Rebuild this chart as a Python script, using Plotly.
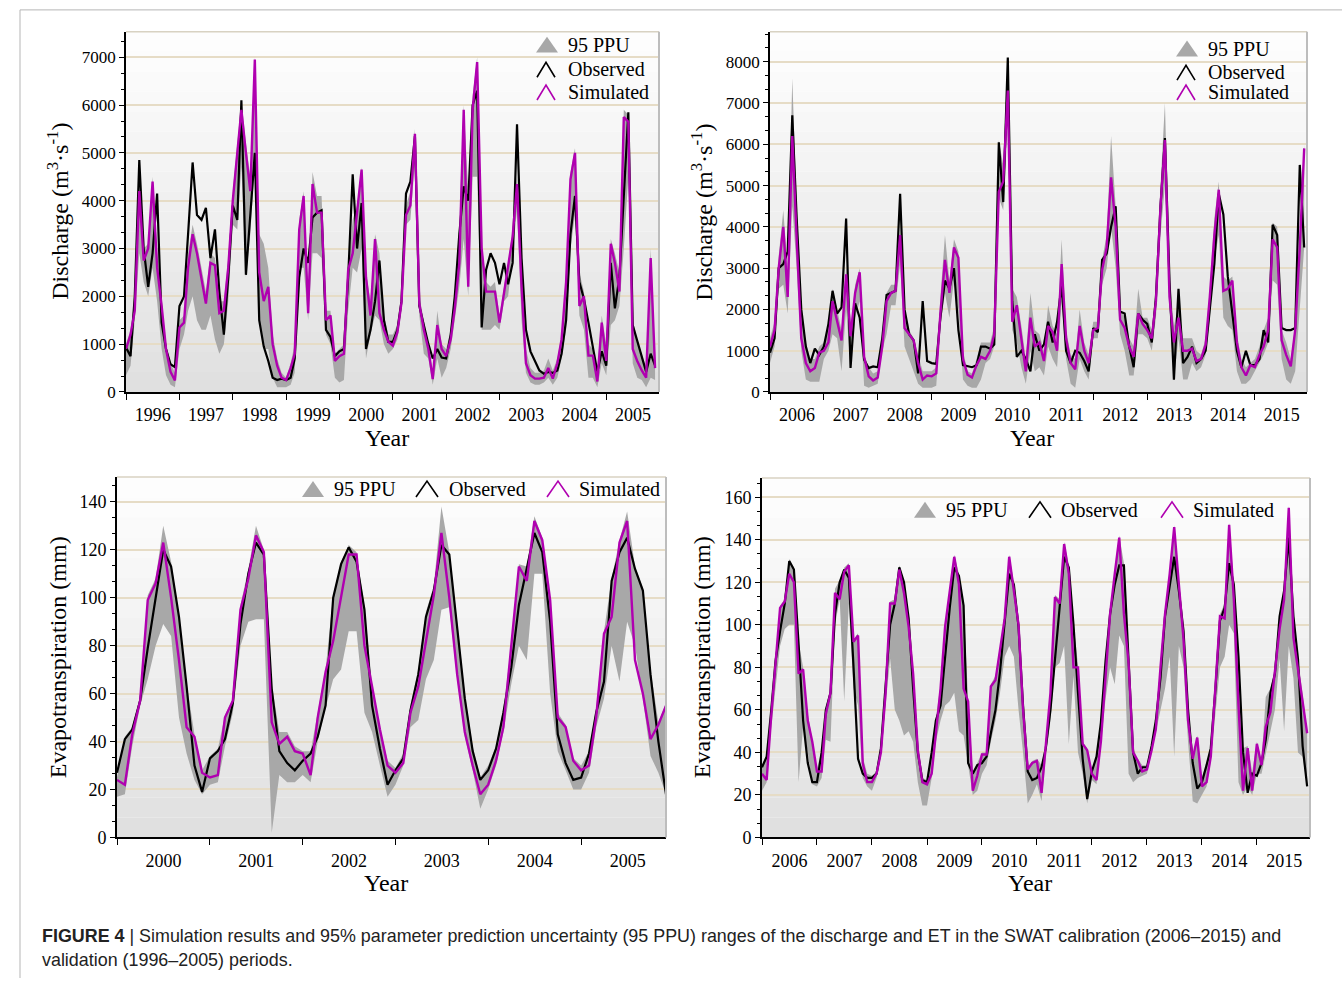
import pandas as pd
import plotly.graph_objects as go

W, H = 1342, 988

# ---------------- DATA ----------------
# Panel A: discharge, validation 1996-2005 (m3/s), monthly
qa_obs = ([930, 750, 2000, 4850, 3000, 2200, 2900, 4150, 1450, 900, 580, 520] +
          [1800, 2000, 3300, 4800, 3700, 3600, 3850, 2800, 3400, 2100, 1200, 2400] +
          [3900, 3600, 6100, 2450, 3700, 5000, 1500, 950, 650, 300, 250, 280] +
          [250, 300, 700, 2400, 3000, 2700, 3650, 3750, 3800, 1300, 1150, 750] +
          [850, 900, 2400, 4550, 3000, 3950, 900, 1300, 1900, 2750, 1500, 1050] +
          [1050, 1300, 1900, 4150, 4400, 5350, 1800, 1400, 1000, 700, 900, 720] +
          [700, 1200, 2000, 3300, 4300, 4000, 6000, 6300, 1350, 2550, 2900, 2700] +
          [2250, 2700, 2250, 2700, 5600, 2800, 1300, 850, 650, 450, 380, 420] +
          [400, 450, 800, 1500, 3300, 4100, 2300, 1950, 1450, 900, 420, 850] +
          [550, 2700, 1750, 2400, 4200, 5850, 1400, 1050, 720, 420, 800, 550])
qa_sim = ([900, 1200, 1700, 4200, 2750, 3000, 4400, 2600, 1800, 900, 420, 240] +
          [1350, 1450, 2600, 3300, 2900, 2400, 1850, 2700, 2650, 1650, 1700, 2600] +
          [4000, 5000, 5900, 5000, 4200, 6950, 2500, 1900, 2200, 1000, 550, 300] +
          [250, 500, 800, 3400, 4100, 1650, 4350, 3750, 3750, 1500, 1600, 650] +
          [750, 800, 2550, 2900, 3800, 4650, 2400, 1600, 3200, 1650, 1300, 1050] +
          [970, 1250, 1870, 3700, 3900, 5400, 1850, 1300, 900, 270, 1400, 900] +
          [750, 1100, 1750, 2700, 5900, 2200, 5900, 6900, 3000, 2100, 2100, 2100] +
          [1450, 2050, 2550, 3250, 4350, 2200, 600, 350, 280, 280, 300, 500] +
          [280, 600, 1100, 2300, 4450, 5000, 1800, 2000, 760, 760, 220, 1450] +
          [650, 3100, 2700, 2100, 5750, 5650, 900, 650, 450, 300, 2800, 500])
qa_lo = ([350, 550, 1500, 2900, 2300, 2000, 2600, 1900, 900, 350, 150, 100] +
         [900, 1200, 1700, 2000, 1500, 1300, 1300, 1600, 1100, 800, 1000, 1900] +
         [3500, 3400, 4700, 2400, 3300, 4800, 1500, 900, 900, 300, 100, 100] +
         [100, 150, 400, 2600, 2600, 1500, 2900, 2900, 2800, 1200, 1000, 300] +
         [200, 250, 1700, 2600, 2500, 3000, 700, 1200, 1600, 1500, 1000, 800] +
         [900, 1100, 1700, 3500, 3600, 4800, 1600, 800, 700, 150, 700, 300] +
         [500, 900, 1500, 2200, 3200, 2000, 4500, 4500, 1300, 1300, 1300, 1400] +
         [1300, 1900, 2000, 2900, 3800, 1500, 400, 200, 150, 150, 200, 300] +
         [150, 300, 700, 1300, 3000, 3700, 1600, 1300, 300, 300, 100, 600] +
         [350, 1400, 1500, 1800, 3000, 4500, 600, 300, 250, 100, 300, 250])
qa_hi = ([1000, 1300, 2000, 4300, 3000, 3100, 4500, 3000, 1900, 1000, 600, 400] +
         [1500, 1600, 2900, 3500, 3100, 2600, 2100, 2900, 2800, 1900, 1900, 2800] +
         [4200, 5200, 6100, 5200, 4500, 7000, 3300, 3100, 2600, 1200, 700, 400] +
         [300, 600, 1000, 3600, 4200, 2000, 4600, 4100, 4100, 1700, 1700, 800] +
         [900, 1000, 2600, 3600, 3900, 4700, 2500, 1900, 3300, 2900, 1600, 1200] +
         [1200, 1400, 2000, 3900, 4200, 5500, 2000, 1500, 1000, 400, 1700, 1000] +
         [900, 1300, 2100, 3500, 6000, 4200, 6200, 7000, 3100, 2300, 2200, 2300] +
         [1600, 2200, 2700, 3400, 4500, 2400, 900, 500, 400, 400, 450, 700] +
         [450, 700, 1200, 2500, 4600, 5100, 2500, 2100, 1000, 900, 500, 1600] +
         [1000, 3200, 2900, 2500, 5900, 5800, 1500, 1100, 800, 500, 3000, 700])

# Panel B: discharge, calibration 2006-2015
qb_obs = ([950, 1300, 3000, 3100, 3400, 6700, 4200, 2000, 1100, 700, 1050, 900] +
          [1100, 1650, 2450, 1900, 2050, 4200, 580, 2150, 1800, 780, 580, 620] +
          [600, 1300, 2350, 2400, 2450, 4800, 2000, 1400, 1250, 450, 2200, 750] +
          [700, 680, 1800, 2700, 2500, 3000, 1500, 650, 620, 600, 650, 1100] +
          [1100, 1050, 1150, 6050, 4600, 8100, 2200, 850, 1000, 800, 500, 1400] +
          [1000, 1150, 1700, 1200, 1700, 2600, 1000, 700, 1000, 950, 750, 500] +
          [1550, 1450, 3200, 3350, 4000, 4500, 1950, 1900, 1100, 600, 1900, 1750] +
          [1650, 1200, 2300, 4500, 6150, 2700, 300, 2500, 700, 850, 1100, 700] +
          [800, 1000, 2000, 3100, 4800, 4300, 2800, 1900, 1000, 600, 1000, 650] +
          [650, 800, 1500, 1200, 4050, 3800, 1550, 1500, 1500, 1550, 5500, 3500])
qb_sim = ([1100, 1500, 3000, 4000, 2300, 6200, 3700, 1300, 700, 500, 580, 950] +
          [1000, 1200, 2200, 1750, 1250, 2850, 1350, 2400, 2900, 850, 380, 280] +
          [350, 1100, 2200, 2400, 2450, 3800, 1550, 1400, 1250, 700, 300, 400] +
          [380, 450, 1900, 3200, 2400, 3500, 3250, 800, 420, 350, 650, 850] +
          [800, 1000, 1400, 4850, 5100, 7300, 1700, 2100, 1300, 500, 1800, 1100] +
          [1200, 750, 1600, 1450, 1000, 3100, 1300, 700, 550, 1600, 1000, 700] +
          [1500, 1550, 2950, 3500, 5200, 4000, 1750, 1550, 1100, 850, 1900, 1650] +
          [1500, 1300, 2200, 4500, 6100, 2300, 1200, 1800, 1000, 1000, 1050, 750] +
          [800, 1150, 2300, 3800, 4900, 2450, 2500, 2700, 1200, 600, 400, 650] +
          [600, 900, 1100, 1500, 3700, 3500, 1250, 900, 620, 1500, 3500, 5900])
qb_lo = ([700, 1100, 2500, 2600, 1900, 4500, 3000, 1000, 300, 250, 250, 250] +
         [800, 1000, 1400, 1300, 500, 2000, 600, 1800, 2200, 150, 100, 150] +
         [200, 1000, 1400, 2100, 2100, 3100, 1100, 800, 500, 200, 100, 100] +
         [100, 150, 1600, 2400, 1800, 2700, 2000, 300, 150, 100, 100, 300] +
         [700, 800, 1100, 4700, 4400, 6500, 1500, 1200, 600, 200, 1000, 500] +
         [600, 400, 1100, 800, 600, 2200, 800, 200, 100, 800, 500, 300] +
         [1300, 1300, 2600, 3000, 4000, 3000, 1400, 1000, 400, 400, 1400, 1400] +
         [1300, 1000, 1800, 3800, 5000, 2000, 300, 1300, 300, 300, 700, 500] +
         [600, 900, 1800, 3200, 3800, 1800, 1600, 1500, 500, 200, 200, 300] +
         [500, 700, 900, 1200, 2700, 2600, 800, 300, 200, 500, 2000, 3500])
qb_hi = ([1300, 1700, 3300, 4400, 3000, 7600, 4500, 2000, 1200, 800, 800, 1100] +
         [1200, 1600, 2500, 2000, 1500, 3000, 1500, 2600, 3000, 900, 600, 450] +
         [500, 1400, 2400, 2600, 2600, 4000, 1800, 1500, 1300, 900, 500, 500] +
         [500, 600, 2300, 3800, 2700, 3700, 3400, 1000, 500, 450, 800, 1200] +
         [1200, 1200, 1600, 6100, 5500, 8100, 2500, 2300, 1600, 800, 2400, 1500] +
         [1400, 1000, 2100, 1600, 1400, 3700, 1500, 900, 800, 2000, 1200, 900] +
         [1700, 1700, 3200, 3800, 6200, 4500, 2000, 1800, 1300, 1100, 2500, 1800] +
         [1800, 1500, 2400, 5000, 7000, 2800, 1600, 2100, 1300, 1300, 1300, 1000] +
         [900, 1300, 2500, 4200, 5100, 2800, 2700, 2800, 1400, 800, 600, 700] +
         [800, 1100, 1500, 1800, 4100, 4000, 1500, 1200, 800, 1600, 4000, 6000])

# Panel C: ET, validation 2000-2005 (mm)
ec_obs = ([27, 41, 45, 57, 79, 99, 120, 113, 92, 63, 30, 19] +
          [33, 36, 41, 56, 89, 110, 123, 118, 62, 36, 31, 28] +
          [32, 35, 42, 55, 100, 114, 121, 115, 95, 55, 37, 22] +
          [28, 33, 53, 68, 92, 103, 122, 118, 88, 58, 36, 24] +
          [28, 37, 52, 71, 97, 112, 127, 119, 90, 43, 31, 24] +
          [25, 35, 52, 65, 107, 119, 125, 112, 103, 68, 40, 18])
ec_sim = ([24, 22, 43, 57, 99, 106, 123, 100, 74, 46, 42, 27] +
          [25, 26, 50, 57, 95, 108, 126, 119, 48, 39, 42, 36] +
          [35, 26, 50, 69, 82, 100, 118, 118, 80, 63, 45, 30] +
          [27, 31, 52, 63, 82, 101, 127, 100, 68, 44, 30, 18] +
          [22, 32, 46, 79, 113, 107, 132, 124, 99, 50, 46, 32] +
          [28, 30, 50, 85, 92, 123, 132, 74, 60, 41, 47, 55])
ec_lo = ([17, 18, 38, 55, 66, 80, 89, 84, 50, 35, 24, 18] +
         [22, 23, 38, 52, 80, 90, 91, 91, 2, 26, 23, 23] +
         [26, 23, 40, 54, 66, 70, 86, 86, 52, 44, 30, 17] +
         [22, 30, 46, 49, 66, 74, 95, 96, 66, 42, 28, 12] +
         [20, 30, 44, 64, 80, 74, 110, 110, 60, 36, 28, 20] +
         [20, 27, 46, 58, 80, 65, 90, 80, 58, 34, 27, 18])
ec_hi = ([25, 42, 46, 59, 101, 108, 130, 115, 93, 64, 43, 28] +
         [34, 37, 51, 58, 97, 112, 130, 120, 64, 44, 44, 38] +
         [36, 36, 52, 70, 101, 115, 122, 119, 96, 64, 46, 32] +
         [29, 35, 55, 70, 94, 105, 138, 119, 90, 60, 38, 25] +
         [30, 38, 54, 80, 114, 113, 134, 125, 100, 52, 47, 33] +
         [30, 36, 54, 86, 108, 124, 136, 113, 104, 70, 48, 56])

# Panel D: ET, calibration 2006-2015 (mm)
ed_obs = ([33, 38, 58, 83, 97, 110, 130, 126, 91, 55, 35, 26] +
          [26, 40, 60, 68, 105, 120, 126, 122, 80, 37, 30, 28] +
          [28, 30, 42, 70, 100, 110, 127, 120, 103, 70, 40, 27] +
          [26, 40, 55, 62, 85, 108, 127, 123, 109, 35, 30, 34] +
          [35, 38, 49, 60, 78, 101, 124, 119, 99, 62, 31, 27] +
          [28, 33, 42, 60, 84, 111, 132, 127, 100, 68, 37, 18] +
          [31, 38, 54, 83, 105, 119, 128, 128, 84, 40, 30, 33] +
          [33, 43, 55, 75, 104, 119, 132, 116, 97, 60, 35, 23] +
          [26, 34, 42, 70, 102, 108, 129, 119, 85, 40, 21, 30] +
          [29, 35, 46, 68, 77, 104, 116, 141, 104, 84, 43, 24])
ed_sim = ([30, 27, 55, 80, 108, 111, 124, 120, 77, 79, 55, 45] +
          [31, 31, 58, 68, 115, 112, 125, 128, 92, 95, 35, 26] +
          [26, 30, 40, 68, 110, 110, 126, 115, 99, 77, 41, 26] +
          [25, 30, 50, 70, 99, 115, 132, 119, 70, 64, 22, 29] +
          [39, 39, 71, 74, 88, 103, 132, 117, 100, 60, 32, 35] +
          [36, 21, 42, 68, 113, 110, 138, 124, 80, 80, 44, 41] +
          [30, 27, 45, 74, 105, 124, 141, 105, 82, 40, 36, 31] +
          [32, 41, 51, 80, 105, 124, 146, 119, 93, 55, 37, 47] +
          [24, 26, 38, 71, 104, 103, 147, 112, 62, 22, 42, 22] +
          [44, 34, 52, 59, 77, 98, 112, 155, 94, 79, 65, 49])
ed_lo = ([22, 26, 50, 70, 90, 98, 100, 100, 26, 52, 40, 25] +
         [24, 28, 46, 45, 100, 112, 64, 110, 70, 62, 28, 24] +
         [22, 28, 38, 62, 84, 60, 55, 48, 50, 45, 26, 15] +
         [15, 28, 45, 55, 62, 64, 68, 50, 48, 34, 20, 22] +
         [30, 34, 45, 55, 68, 85, 90, 85, 60, 40, 16, 20] +
         [25, 17, 38, 55, 80, 82, 90, 44, 76, 40, 30, 16] +
         [27, 25, 43, 65, 80, 72, 95, 90, 30, 26, 28, 29] +
         [30, 40, 50, 60, 70, 85, 38, 90, 80, 45, 17, 16] +
         [20, 24, 36, 60, 80, 85, 100, 96, 26, 20, 24, 20] +
         [30, 30, 40, 50, 60, 84, 50, 90, 75, 40, 38, 24])
ed_hi = ([34, 39, 60, 85, 109, 112, 131, 127, 92, 80, 58, 46] +
         [32, 41, 61, 70, 117, 121, 127, 129, 93, 96, 38, 30] +
         [29, 31, 43, 71, 111, 112, 128, 121, 104, 78, 42, 28] +
         [27, 41, 56, 72, 100, 116, 133, 124, 110, 65, 31, 35] +
         [40, 40, 72, 76, 90, 104, 133, 120, 101, 63, 33, 36] +
         [37, 34, 43, 70, 114, 112, 139, 128, 101, 81, 45, 42] +
         [32, 39, 55, 84, 106, 125, 142, 129, 85, 42, 37, 34] +
         [34, 44, 56, 81, 106, 125, 147, 120, 98, 61, 38, 48] +
         [28, 35, 43, 72, 105, 110, 148, 120, 86, 42, 43, 31] +
         [45, 36, 66, 70, 78, 105, 117, 156, 105, 85, 66, 50])

legend_labels = ["95 PPU", "Observed", "Simulated"]
q_title = "Discharge (m<sup>3</sup>·s<sup>-1</sup>)"
et_title = "Evapotranspiration (mm)"
x_title = "Year"
caption1 = ("<b>FIGURE 4</b> | Simulation results and 95% parameter prediction uncertainty (95 PPU) "
            "ranges of the discharge and ET in the SWAT calibration (2006–2015) and")
caption2 = "validation (1996–2005) periods."

# ---------------- LAYOUT HELPERS ----------------
SERIF = "Liberation Serif, Times New Roman, serif"
BAND = "rgb(168,168,168)"
OBS_C = "#000000"
SIM_C = "#b000b0"


def fx(p):
    return p / W


def fy(p):
    return 1 - p / H


panels = [
    dict(obs=qa_obs, sim=qa_sim, lo=qa_lo, hi=qa_hi, start="1996-01-01",
         rng=["1996-01-01", "2005-12-28"], ymax=7535, dtick=1000,
         px=(126, 659), py=(32, 396), title=q_title, tx=58, ty=214,
         yr=(387, 442), tickfont=17, ttl=24),
    dict(obs=qb_obs, sim=qb_sim, lo=qb_lo, hi=qb_hi, start="2006-01-01",
         rng=["2006-01-01", "2015-12-20"], ymax=8727, dtick=1000,
         px=(770, 1307), py=(32, 396), title=q_title, tx=702, ty=214,
         yr=(1032, 442), tickfont=17, ttl=24),
    dict(obs=ec_obs, sim=ec_sim, lo=ec_lo, hi=ec_hi, start="2000-01-01",
         rng=["2000-01-01", "2005-12-01"], ymax=150.3, dtick=20,
         px=(117, 666), py=(482, 846), title=et_title, tx=58, ty=664,
         yr=(386, 892), tickfont=18, ttl=24),
    dict(obs=ed_obs, sim=ed_sim, lo=ed_lo, hi=ed_hi, start="2006-01-01",
         rng=["2006-01-01", "2015-12-20"], ymax=169, dtick=20,
         px=(762, 1310), py=(483, 846), title=et_title, tx=702, ty=664,
         yr=(1030, 892), tickfont=18, ttl=24),
]

fig = go.Figure()
shapes = []
annotations = []
layout_axes = {}

for i, p in enumerate(panels, start=1):
    xa = "x" if i == 1 else f"x{i}"
    ya = "y" if i == 1 else f"y{i}"
    xkey = "xaxis" if i == 1 else f"xaxis{i}"
    ykey = "yaxis" if i == 1 else f"yaxis{i}"
    dates = pd.date_range(p["start"], periods=len(p["obs"]), freq="MS")

    fig.add_trace(go.Scatter(x=dates, y=p["lo"], mode="lines", line=dict(width=0, color=BAND),
                             xaxis=xa, yaxis=ya, showlegend=False, hoverinfo="skip"))
    fig.add_trace(go.Scatter(x=dates, y=p["hi"], mode="lines", line=dict(width=0, color=BAND),
                             fill="tonexty", fillcolor=BAND, xaxis=xa, yaxis=ya,
                             showlegend=False, hoverinfo="skip"))
    fig.add_trace(go.Scatter(x=dates, y=p["obs"], mode="lines", line=dict(width=2.2, color=OBS_C),
                             xaxis=xa, yaxis=ya, showlegend=False, name="Observed"))
    fig.add_trace(go.Scatter(x=dates, y=p["sim"], mode="lines", line=dict(width=2.4, color=SIM_C),
                             xaxis=xa, yaxis=ya, showlegend=False, name="Simulated"))

    x0, x1 = p["px"]
    y0, y1 = p["py"]
    layout_axes[xkey] = dict(
        type="date", domain=[fx(x0), fx(x1)], range=p["rng"], anchor=ya,
        tickmode="linear", tick0=p["start"], dtick="M12", tickformat="%Y",
        ticklabelmode="period", ticks="outside", ticklen=6, tickwidth=1.2,
        tickcolor="black", showline=True, linecolor="black", linewidth=1.6,
        showgrid=False, zeroline=False,
        tickfont=dict(family=SERIF, size=18, color="black"))
    layout_axes[ykey] = dict(
        domain=[fy(y1), fy(y0)], range=[0, p["ymax"]], anchor=xa,
        tickmode="linear", tick0=0, dtick=p["dtick"], ticks="outside", ticklen=5,
        tickwidth=1.2, tickcolor="black", showline=True, linecolor="black",
        linewidth=1.6, showgrid=True, gridcolor="#e6dcc6", gridwidth=1.6,
        zeroline=False,
        minor=dict(dtick=p["dtick"] / 3, ticks="outside", ticklen=3,
                   tickcolor="black", showgrid=False),
        tickfont=dict(family=SERIF, size=p["tickfont"], color="black"))

    # gradient background
    nb = 18
    for b in range(nb):
        c = int(round(253 - (253 - 224) * (b / (nb - 1)) ** 1.1))
        shapes.append(dict(type="rect", xref=f"{xa} domain", yref=f"{ya} domain",
                           x0=0, x1=1, y0=1 - (b + 1) / nb, y1=1 - b / nb,
                           fillcolor=f"rgb({c},{c},{c})", line=dict(width=0),
                           layer="below"))
    # top / right frame
    shapes.append(dict(type="line", xref=f"{xa} domain", yref=f"{ya} domain",
                       x0=0, x1=1, y0=1, y1=1, line=dict(color="#d8d2c2", width=1.5),
                       layer="above"))
    shapes.append(dict(type="line", xref=f"{xa} domain", yref=f"{ya} domain",
                       x0=1, x1=1, y0=0, y1=1, line=dict(color="#bdbdbd", width=2),
                       layer="above"))

    # axis titles
    annotations.append(dict(x=fx(p["tx"]), y=fy(p["ty"]), xref="paper", yref="paper",
                            text=p["title"], textangle=-90, showarrow=False,
                            font=dict(family=SERIF, size=p["ttl"], color="black"),
                            xanchor="center", yanchor="middle"))
    annotations.append(dict(x=fx(p["yr"][0]), y=fy(p["yr"][1]), xref="paper", yref="paper",
                            text=x_title, showarrow=False,
                            font=dict(family=SERIF, size=24, color="black"),
                            xanchor="center", yanchor="middle"))


def tri(xl, xr, yb, yt):
    xm = (xl + xr) / 2
    return dict(type="path", xref="paper", yref="paper",
                path=f"M {fx(xl)},{fy(yb)} L {fx(xr)},{fy(yb)} L {fx(xm)},{fy(yt)} Z",
                fillcolor=BAND, line=dict(width=0), layer="above")


def chev(xl, xr, yb, yt, color):
    xm = (xl + xr) / 2
    return dict(type="path", xref="paper", yref="paper",
                path=f"M {fx(xl)},{fy(yb)} L {fx(xm)},{fy(yt)} L {fx(xr)},{fy(yb)}",
                line=dict(color=color, width=1.6), layer="above")


def leg_text(x, y, t):
    annotations.append(dict(x=fx(x), y=fy(y), xref="paper", yref="paper", text=t,
                            showarrow=False, xanchor="left", yanchor="middle",
                            font=dict(family=SERIF, size=20, color="black")))


# vertical legends (discharge panels)
for (xl, xr, xt, rows) in [(536, 558, 566, (45, 70, 93)), (1176, 1198, 1206, (49, 73, 93))]:
    r0, r1, r2 = rows
    shapes.append(tri(xl, xr, r0 + 8, r0 - 8))
    shapes.append(chev(xl + 1, xr - 3, r1 + 8, r1 - 7, OBS_C))
    shapes.append(chev(xl + 1, xr - 3, r2 + 8, r2 - 7, SIM_C))
    leg_text(xt, r0, legend_labels[0])
    leg_text(xt, r1, legend_labels[1])
    leg_text(xt, r2, legend_labels[2])

# horizontal legends (ET panels)
for (yc, items) in [(494, ((302, 324, 332), (416, 438, 447), (547, 569, 577))),
                    (515, ((914, 936, 944), (1029, 1051, 1059), (1161, 1183, 1191)))]:
    (a0, a1, at), (b0, b1, bt), (c0, c1, ct) = items
    shapes.append(tri(a0, a1, yc + 8, yc - 8))
    shapes.append(chev(b0, b1, yc + 8, yc - 8, OBS_C))
    shapes.append(chev(c0, c1, yc + 8, yc - 8, SIM_C))
    leg_text(at, yc, legend_labels[0])
    leg_text(bt, yc, legend_labels[1])
    leg_text(ct, yc, legend_labels[2])

# page frame lines
shapes.append(dict(type="line", xref="paper", yref="paper", x0=fx(20), x1=fx(20),
                   y0=fy(10), y1=0, line=dict(color="#b5b5b5", width=1)))
shapes.append(dict(type="line", xref="paper", yref="paper", x0=fx(20), x1=1,
                   y0=fy(10), y1=fy(10), line=dict(color="#b5b5b5", width=1)))

# caption
for txt, yy in [(caption1, 946), (caption2, 970)]:
    annotations.append(dict(x=fx(40), y=fy(yy), xref="paper", yref="paper", text=txt,
                            showarrow=False, xanchor="left", yanchor="middle",
                            font=dict(family="Liberation Sans, Arial, sans-serif",
                                      size=17.9, color="#222222")))

fig.update_layout(
    width=W, height=H, margin=dict(l=0, r=0, t=0, b=0),
    paper_bgcolor="white", plot_bgcolor="white", showlegend=False,
    shapes=shapes, annotations=annotations, **layout_axes)

fig.write_html("out.html")
